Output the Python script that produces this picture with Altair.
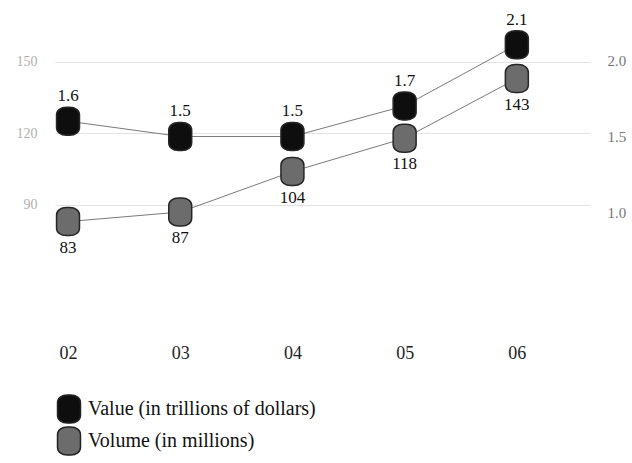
import altair as alt
import pandas as pd

# Chart data
years = [2, 3, 4, 5, 6]
volume = [83, 87, 104, 118, 143]          # millions
value = [1.6, 1.5, 1.5, 1.7, 2.1]         # trillions of dollars
left_ticks = [90, 120, 150]
right_ticks = [1.0, 1.5, 2.0]

VALUE_NAME = "Value (in trillions of dollars)"
VOLUME_NAME = "Volume (in millions)"

df = pd.DataFrame({"year": years, "volume": volume, "value": value})

# Tall rounded-rectangle marker with generous corners
PILL = ("M -0.12,-1 L 0.12,-1 C 0.52,-1 0.82,-0.78 0.82,-0.45 L 0.82,0.45 "
        "C 0.82,0.78 0.52,1 0.12,1 L -0.12,1 C -0.52,1 -0.82,0.78 -0.82,0.45 "
        "L -0.82,-0.45 C -0.82,-0.78 -0.52,-1 -0.12,-1 Z")

SERIF = "Liberation Serif"

x_scale = alt.Scale(domain=[1.884, 6.652], nice=False, zero=False)
color_scale = alt.Scale(domain=[VALUE_NAME, VOLUME_NAME], range=["#0e0e0e", "#6c6c6c"])

x_axis = alt.Axis(values=years, labelExpr="'0' + datum.value", title=None,
                  domain=False, ticks=False, grid=False, labelFont=SERIF,
                  labelFontSize=18, labelColor="#222", labelPadding=24,
                  labelBaseline="top")

left_y = alt.Y("volume:Q",
               scale=alt.Scale(domain=[41.7, 171.8], nice=False, zero=False),
               axis=alt.Axis(values=left_ticks, title=None, domain=False, ticks=False,
                             grid=True, gridColor="#e2e2e2", gridWidth=1,
                             labelFont=SERIF, labelFontSize=14, labelColor="#b0b0b0",
                             labelPadding=18))

right_y = alt.Y("value:Q",
                scale=alt.Scale(domain=[0.30, 2.327], nice=False, zero=False),
                axis=alt.Axis(values=right_ticks, format=".1f", orient="right", title=None,
                              domain=False, ticks=False, grid=False,
                              labelFont=SERIF, labelFontSize=15, labelColor="#777777",
                              labelPadding=17))

legend = alt.Legend(title=None, orient="none", legendX=-1, legendY=384,
                    symbolType=PILL, symbolSize=784, symbolStrokeColor="#222",
                    symbolStrokeWidth=1.5, labelFont=SERIF, labelFontSize=20,
                    labelColor="#111", labelOffset=4, rowPadding=-8, labelLimit=400)

base = alt.Chart(df)

# Volume series (left axis)
vol_base = base.transform_calculate(series=f"'{VOLUME_NAME}'")
vol_line = vol_base.mark_line(color="#7a7a7a", strokeWidth=1).encode(
    x=alt.X("year:Q", scale=x_scale, axis=x_axis), y=left_y)
vol_pts = vol_base.mark_point(shape=PILL, size=784, filled=True, opacity=1,
                              stroke="#262626", strokeWidth=1.5).encode(
    x=alt.X("year:Q", scale=x_scale), y=alt.Y("volume:Q"),
    color=alt.Color("series:N", scale=color_scale, legend=legend))
vol_txt = vol_base.mark_text(font=SERIF, fontSize=17, color="#111", dy=26).encode(
    x=alt.X("year:Q", scale=x_scale), y=alt.Y("volume:Q"), text="volume:Q")
vol_layer = alt.layer(vol_line, vol_pts, vol_txt)

# Value series (right axis)
val_base = base.transform_calculate(series=f"'{VALUE_NAME}'")
val_line = val_base.mark_line(color="#7a7a7a", strokeWidth=1).encode(
    x=alt.X("year:Q", scale=x_scale), y=right_y)
val_pts = val_base.mark_point(shape=PILL, size=784, filled=True, opacity=1,
                              stroke="#262626", strokeWidth=1.5).encode(
    x=alt.X("year:Q", scale=x_scale), y=alt.Y("value:Q"),
    color=alt.Color("series:N", scale=color_scale, legend=legend))
val_txt = val_base.mark_text(font=SERIF, fontSize=17, color="#111", dy=-25).encode(
    x=alt.X("year:Q", scale=x_scale), y=alt.Y("value:Q"),
    text=alt.Text("value:Q", format=".1f"))
val_layer = alt.layer(val_line, val_pts, val_txt)

chart = alt.layer(vol_layer, val_layer).resolve_scale(y="independent").properties(
    width=535, height=310,
    autosize=alt.AutoSizeParams(type="none"),
    padding={"left": 55, "top": 10, "right": 42, "bottom": 143},
    background="white",
).configure_view(stroke=None)

chart.save("out.html", embed_options={"renderer": "svg", "actions": False})
